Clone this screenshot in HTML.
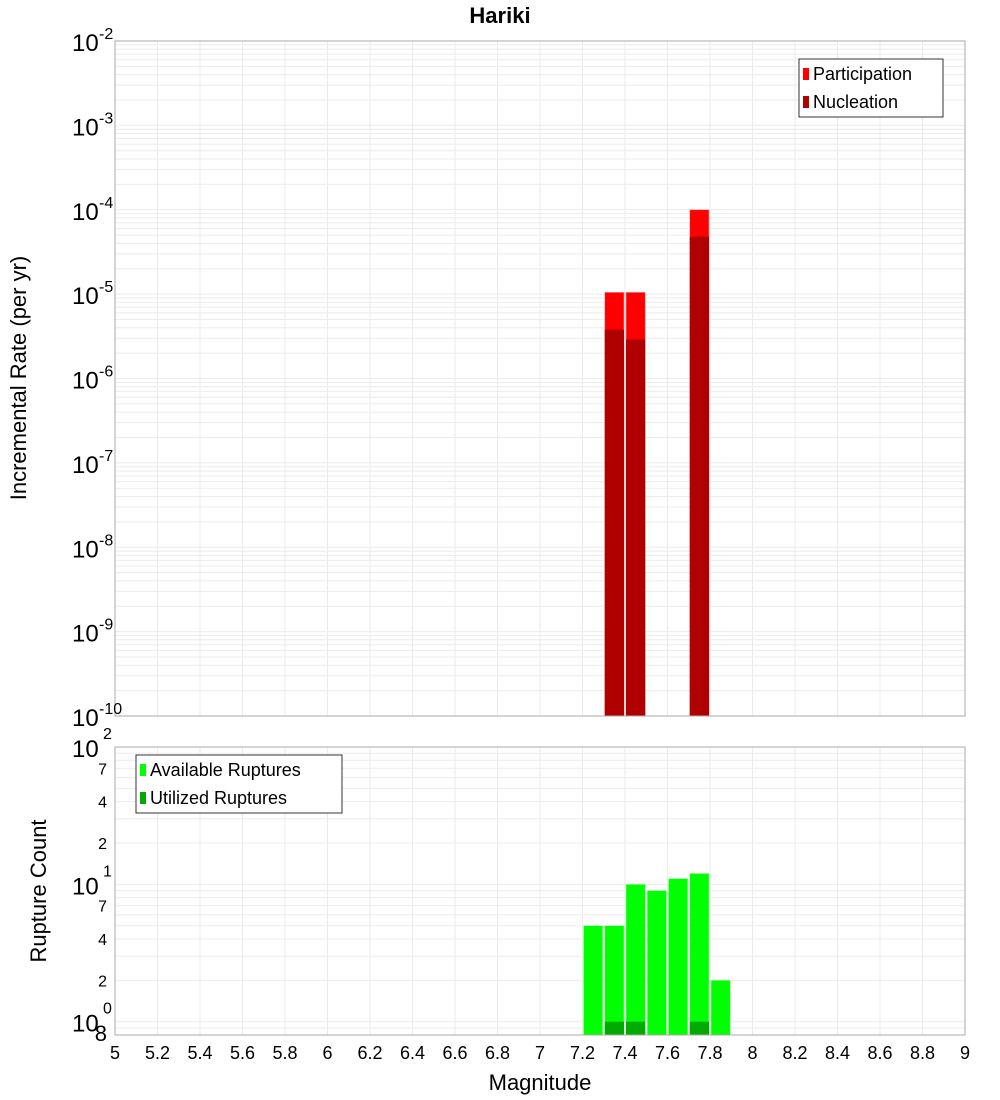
<!DOCTYPE html>
<html><head><meta charset="utf-8"><style>
body{margin:0;background:#fff;}
svg{display:block;font-family:"Liberation Sans","DejaVu Sans",sans-serif;}
</style></head><body>
<svg id="c" width="1000" height="1100" viewBox="0 0 1000 1100">
<text x="500" y="23" text-anchor="middle" font-size="22" font-weight="bold">Hariki</text>
<text transform="translate(26,378) rotate(-90)" text-anchor="middle" font-size="22">Incremental Rate (per yr)</text>
<text transform="translate(46,891) rotate(-90)" text-anchor="middle" font-size="22">Rupture Count</text>
<text x="540" y="1090" text-anchor="middle" font-size="22">Magnitude</text>
<g id="g"></g>
</svg>
<script>
const mags=[7.35,7.45,7.75];
const participation=[1.05e-5,1.05e-5,1.0e-4];
const nucleation=[3.8e-6,2.9e-6,4.8e-5];
const countMags=[7.25,7.35,7.45,7.55,7.65,7.75,7.85];
const available=[5,5,10,9,11,12,2];
const utilMags=[7.35,7.45,7.75];
const utilized=[1,1,1];
const xTicks=[5,5.2,5.4,5.6,5.8,6,6.2,6.4,6.6,6.8,7,7.2,7.4,7.6,7.8,8,8.2,8.4,8.6,8.8,9];
const topExps=[-2,-3,-4,-5,-6,-7,-8,-9,-10];

const NS='http://www.w3.org/2000/svg';
const g=document.getElementById('g');
function el(t,a,p){const e=document.createElementNS(NS,t);for(const k in a)e.setAttribute(k,a[k]);(p||g).appendChild(e);return e;}
const X0=115,X1=965;
const x=m=>X0+(m-5)/4*(X1-X0);
const T0=41,T1=716;
const yT=v=>T0+(-2-Math.log10(v))/8*(T1-T0);
const B0=747,B1=1035,BMIN=0.8,BMAX=100;
const yB=v=>B0+(Math.log10(BMAX)-Math.log10(v))/Math.log10(BMAX/BMIN)*(B1-B0);

// grids
function vgrid(y0,y1){xTicks.forEach(t=>{const l=el('line',{x1:x(t),x2:x(t),y1:y0,y2:y1,stroke:'#ebebeb','stroke-width':1});

});}
vgrid(T0,T1);vgrid(B0,B1);
for(let e=-10;e<-2;e++)for(let k=1;k<10;k++){const v=k*Math.pow(10,e);const y=yT(v);
const l=el('line',{x1:X0,x2:X1,y1:y,y2:y,stroke:'#ebebeb','stroke-width':1});

}
for(let e=-1;e<2;e++)for(let k=1;k<10;k++){const v=k*Math.pow(10,e);if(v<BMIN||v>BMAX)continue;const y=yB(v);
const l=el('line',{x1:X0,x2:X1,y1:y,y2:y,stroke:'#ebebeb','stroke-width':1});

}

const bw=(x(5.1)-x(5))-2;
// top bars
mags.forEach((m,i)=>{
 const r=el('rect',{x:x(m)-bw/2,y:yT(participation[i]),width:bw,height:T1-yT(participation[i]),fill:'#ff0000',stroke:'#ff9a9a','stroke-width':0.6});
 
 
 const n=el('rect',{x:x(m)-bw/2,y:yT(nucleation[i]),width:bw,height:T1-yT(nucleation[i]),fill:'#b00000'});
 
 
});
countMags.forEach((m,i)=>{
 const r=el('rect',{x:x(m)-bw/2,y:yB(available[i]),width:bw,height:B1-yB(available[i]),fill:'#00ff00',stroke:'#9aff9a','stroke-width':0.6});
 
 
});
utilMags.forEach((m,i)=>{
 const r=el('rect',{x:x(m)-bw/2,y:yB(utilized[i]),width:bw,height:B1-yB(utilized[i]),fill:'#00aa00'});
 
 
});
// frames
[[T0,T1],[B0,B1]].forEach(([a,b])=>{const f=el('rect',{x:X0,y:a,width:X1-X0,height:b-a,fill:'none',stroke:'#aaaaaa','stroke-width':1});

});
// x tick labels
xTicks.forEach(t=>{const s=el('text',{x:x(t),y:1059,'text-anchor':'middle','font-size':18});s.textContent=String(t);

});
// top y labels
topExps.forEach(e=>{const y=yT(Math.pow(10,e));
 const t=el('text',{x:72,y:y+10,'font-size':24});t.textContent='10';
 
 
 const s=el('text',{x:99,y:y-2,'font-size':16});s.textContent=String(e);
 
 });
// bottom y labels
[[100,'2'],[10,'1'],[1,'0']].forEach(([v,e])=>{const y=yB(v);
 const t=el('text',{x:72,y:y+10,'font-size':24});t.textContent='10';
 
 
 const s=el('text',{x:103,y:y-8,'font-size':16});s.textContent=e;
 
 });
[[70,'7'],[40,'4'],[20,'2'],[7,'7'],[4,'4'],[2,'2'],[0.8,'8']].forEach(([v,l])=>{
 const t=el('text',{x:107,y:yB(v)+6,'text-anchor':'end','font-size':v===0.8?22:16});t.textContent=l;
 
 });
// legends
function legend(x0,y0,w,items,name){
 const lg=el('g',{});
 
 
 el('rect',{x:x0,y:y0,width:w,height:58,fill:'#fff',stroke:'#333','stroke-width':1},lg);
 items.forEach((it,i)=>{
  el('rect',{x:x0+4,y:y0+9+i*28,width:6,height:12,fill:it[1]},lg);
  const t=el('text',{x:x0+14,y:y0+21+i*28,'font-size':18},lg);t.textContent=it[0];
 });
}
legend(799,59,144,[['Participation','#ff0000'],['Nucleation','#b00000']],'top-legend');
legend(136,755,206,[['Available Ruptures','#00ff00'],['Utilized Ruptures','#00aa00']],'bottom-legend');
</script>
</body></html>
